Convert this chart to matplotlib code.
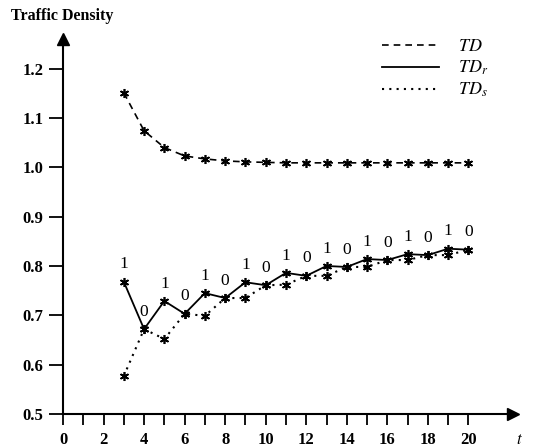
import matplotlib.pyplot as plt

plt.rcParams['font.family'] = 'Liberation Serif'
plt.rcParams['mathtext.fontset'] = 'stix'

# data
t = list(range(3, 21))
td = [1.151, 1.074, 1.040, 1.023, 1.017, 1.013, 1.011, 1.010, 1.009, 1.009,
      1.009, 1.009, 1.009, 1.009, 1.009, 1.009, 1.009, 1.009]
td_r = [0.768, 0.672, 0.729, 0.703, 0.745, 0.735, 0.767, 0.761, 0.786, 0.780,
        0.800, 0.798, 0.814, 0.812, 0.824, 0.822, 0.835, 0.833]
td_s = [0.577, 0.672, 0.652, 0.703, 0.699, 0.735, 0.735, 0.761, 0.762, 0.780,
        0.780, 0.798, 0.798, 0.812, 0.812, 0.822, 0.822, 0.833]
bits = ['1', '0'] * 9

fig = plt.figure(figsize=(5.33, 4.47), dpi=100)
ax = fig.add_axes([63 / 533, 33 / 447, 450 / 533, 375 / 447])

ax.plot(t, td, ls=(0, (4, 3)), color='black', lw=1.2, label='$TD$')
ax.plot(t, td_r, ls='-', color='black', lw=1.3, label='$TD_r$')
ax.plot(t, td_s, ls=(0, (1, 2.5)), color='black', lw=1.5, label='$TD_s$')
for series in (td, td_r, td_s):
    ax.plot(t, series, ls='none', marker=(6, 2, 0), ms=6.5, mew=1.2, color='black')

for x, y, b in zip(t, td_r, bits):
    ax.annotate(b, (x, y), xytext=(0, 12.5), textcoords='offset points',
                ha='center', va='center', fontsize=12.5)

ax.set_xlim(0, 22.2)
ax.set_ylim(0.5, 1.26)
ax.set_xticks(range(0, 21))
ax.set_xticklabels([str(i) if i % 2 == 0 else '' for i in range(0, 21)],
                   fontweight='bold', fontsize=12)
ax.set_yticks([0.5, 0.6, 0.7, 0.8, 0.9, 1.0, 1.1, 1.2])
ax.set_yticklabels(['0.5', '0.6', '0.7', '0.8', '0.9', '1.0', '1.1', '1.2'],
                   fontweight='bold', fontsize=12)
ax.tick_params(axis='x', direction='out', length=8, width=1.3, pad=5)
ax.tick_params(axis='y', direction='out', length=10, width=1.3, pad=4)

for s in ('top', 'right'):
    ax.spines[s].set_visible(False)
for s in ('left', 'bottom'):
    ax.spines[s].set_linewidth(1.5)

# arrow heads
ax.plot(1, 0, marker='>', ms=8, color='black', transform=ax.transAxes, clip_on=False)
ax.plot(0, 1, marker='^', ms=8, color='black', transform=ax.transAxes, clip_on=False)

ax.legend(loc='upper right', bbox_to_anchor=(0.98, 1.045), frameon=False,
          fontsize=13, handlelength=3.2, labelspacing=0.2, handletextpad=1.0)

fig.text(11 / 533, 1 - 16 / 447, 'Traffic Density', fontsize=11.5,
         fontweight='bold', va='center', ha='left')
fig.text(516 / 533, 1 - 440 / 447, '$t$', fontsize=12, va='center', ha='left')

plt.savefig('out.png', dpi=100)
